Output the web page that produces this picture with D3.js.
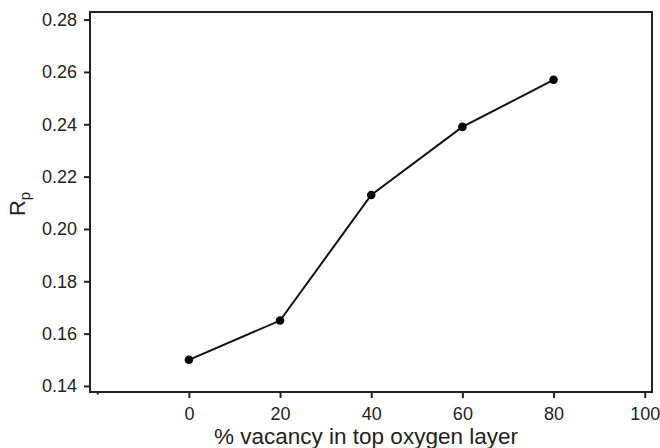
<!DOCTYPE html>
<html>
<head>
<meta charset="utf-8">
<script src="https://cdn.jsdelivr.net/npm/d3@7"></script>
<style>
  body { margin: 0; background: #fff; }
  text { font-family: Arial, "Liberation Sans", sans-serif; fill: #222; }
</style>
</head>
<body>
<div id="chart"></div>
<script>
/* Values. */
let vacancy = [0, 20, 40, 60, 80];
let rp = [0.150, 0.165, 0.213, 0.239, 0.257];
let xTicks = [0, 20, 40, 60, 80, 100];
let yTicks = [0.14, 0.16, 0.18, 0.20, 0.22, 0.24, 0.26, 0.28];

let width = 660, height = 448;
let margin = {top: 12, right: 8, bottom: 56, left: 90};

let svg = d3.select("#chart").append("svg")
    .attr("width", width)
    .attr("height", height);

/* Scales: the axes extend a bit beyond the ticks, like the original. */
let x = d3.scaleLinear()
    .domain([-21.7, 101.6])
    .range([margin.left, width - margin.right]);
let y = d3.scaleLinear()
    .domain([0.1377, 0.2829])
    .range([height - margin.bottom, margin.top]);

let xAxis = d3.axisBottom(x).tickValues(xTicks).tickSize(6).tickPadding(9)
    .tickFormat(d3.format("d"));
let yAxis = d3.axisLeft(y).tickValues(yTicks).tickSize(6).tickPadding(7)
    .tickFormat(d3.format(".2f"));

let gx = svg.append("g")
    .attr("transform", "translate(0," + (height - margin.bottom) + ")")
    .call(xAxis);
let gy = svg.append("g")
    .attr("transform", "translate(" + margin.left + ",0)")
    .call(yAxis);

/* Small unlabeled stub at -20 on the x axis. */
gx.append("line")
    .attr("x1", x(-20)).attr("x2", x(-20))
    .attr("y1", 0).attr("y2", 2.5)
    .attr("stroke", "#222").attr("stroke-width", 2);

[gx, gy].forEach(g => {
    g.select(".domain").remove();
    g.selectAll(".tick line").attr("stroke", "#222").attr("stroke-width", 2);
    g.selectAll(".tick text").style("font-size", "18px").attr("fill", "#2a2a2a");
});

/* Plot frame. */
svg.append("rect")
    .attr("x", margin.left)
    .attr("y", margin.top)
    .attr("width", width - margin.left - margin.right)
    .attr("height", height - margin.top - margin.bottom)
    .attr("fill", "none")
    .attr("stroke", "#222")
    .attr("stroke-width", 2);

/* Data line and markers. */
let data = d3.zip(vacancy, rp);
let line = d3.line()
    .x(d => x(d[0]))
    .y(d => y(d[1]));
svg.append("path")
    .attr("d", line(data))
    .attr("fill", "none")
    .attr("stroke", "#111")
    .attr("stroke-width", 2);
svg.selectAll("circle.pt")
    .data(data)
    .enter()
    .append("circle")
        .attr("class", "pt")
        .attr("cx", d => x(d[0]))
        .attr("cy", d => y(d[1]))
        .attr("r", 4.3)
        .attr("fill", "#000");

/* Axis titles. */
svg.append("text")
    .attr("x", 366)
    .attr("y", 444)
    .attr("text-anchor", "middle")
    .style("font-size", "22.5px")
    .text("% vacancy in top oxygen layer");

let yl = svg.append("text")
    .attr("transform", "translate(25,204) rotate(-90)")
    .attr("text-anchor", "middle")
    .style("font-size", "22px");
yl.append("tspan").text("R");
yl.append("tspan").attr("dy", 5).style("font-size", "15px").text("p");
</script>
</body>
</html>
